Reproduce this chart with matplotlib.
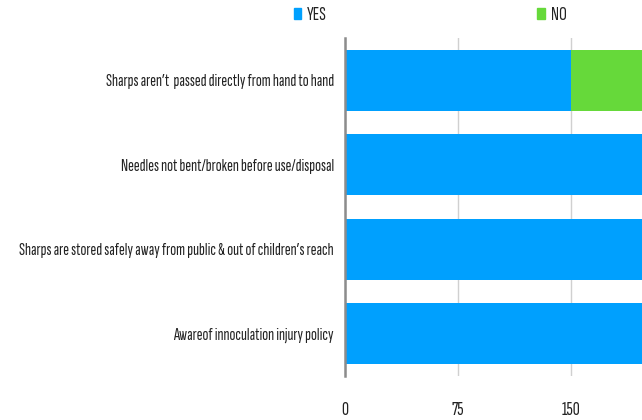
import matplotlib
matplotlib.use("Agg")
import matplotlib.pyplot as plt
from matplotlib.patches import Patch

categories = [
    "Sharps aren\u2019t  passed directly from hand to hand",
    "Needles not bent/broken before use/disposal",
    "Sharps are stored safely away from public & out of children\u2019s reach",
    "Awareof innoculation injury policy",
]
yes_values = [150, 210, 210, 210]
no_values = [50, 0, 0, 0]
xticks = [0, 75, 150]

plt.rcParams['font.family'] = ['Sofia Sans Extra Condensed', 'DejaVu Sans']
plt.rcParams['font.weight'] = 300

W, H = 642, 420
fig = plt.figure(figsize=(W / 100, H / 100), dpi=100)
ax = fig.add_axes([345 / W, (H - 376) / H, 339 / W, 338 / H])

blue = "#00A0FE"
green = "#66D93A"
pos = list(range(len(categories)))
ax.barh(pos, yes_values, height=0.72, color=blue, zorder=2)
ax.barh(pos, no_values, left=yes_values, height=0.72, color=green, zorder=2)

ax.set_ylim(len(categories) - 0.5, -0.5)
ax.set_xlim(0, 225)
ax.set_xticks(xticks)
ax.set_xticklabels([str(t) for t in xticks])
ax.set_yticks(pos)
ax.set_yticklabels(categories)
ax.tick_params(axis='x', length=0, pad=18, labelsize=14, labelcolor="#222222")
ax.tick_params(axis='y', length=0, pad=8, labelsize=12.6, labelcolor="#222222")
ax.xaxis.grid(True, color="#D0D0D0", linewidth=1, zorder=0)
ax.set_axisbelow(True)
for s in ["top", "right", "bottom"]:
    ax.spines[s].set_visible(False)
ax.spines["left"].set_color("#8C8C8C")
ax.spines["left"].set_linewidth(1.8)
ax.spines["left"].set_zorder(3)

handles = [Patch(color=blue, label="YES"), Patch(color=green, label="NO")]
fig.legend(handles=handles, loc="center", bbox_to_anchor=(430 / W, 1 - 15 / H),
           ncol=2, frameon=False, fontsize=14, handlelength=0.4, handleheight=0.5,
           handletextpad=0.3, columnspacing=10.8, labelcolor="#222222")

fig.savefig("out.png", dpi=100)
